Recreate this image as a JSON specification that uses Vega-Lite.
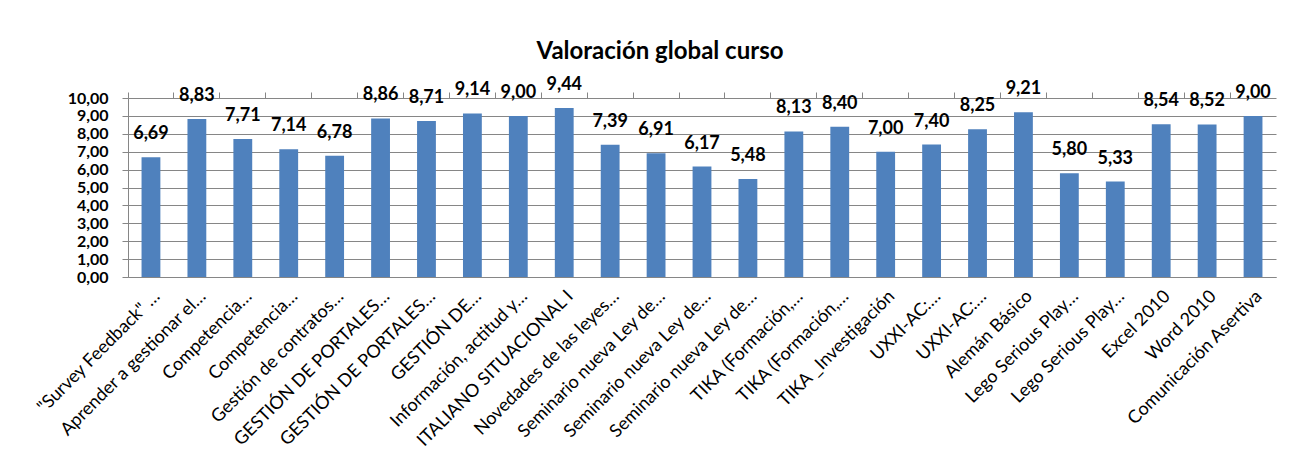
{
  "$schema": "https://vega.github.io/schema/vega-lite/v6.json",
  "autosize": {"type": "none"},
  "width": 1148,
  "height": 179,
  "padding": {"left": 128, "top": 98, "right": 18, "bottom": 193},
  "background": "white",
  "title": {
    "text": "Valoración global curso",
    "font": "Lato",
    "fontSize": 24,
    "fontWeight": "bold",
    "color": "#000000",
    "anchor": "middle",
    "dx": -42,
    "offset": 12
  },
  "data": {
    "values": [
      {"curso": "01|\"Survey Feedback\" …", "valor": 6.69},
      {"curso": "02|Aprender a gestionar el…", "valor": 8.83},
      {"curso": "03|Competencia…", "valor": 7.71},
      {"curso": "04|Competencia…", "valor": 7.14},
      {"curso": "05|Gestión de contratos…", "valor": 6.78},
      {"curso": "06|GESTIÓN DE PORTALES…", "valor": 8.86},
      {"curso": "07|GESTIÓN DE PORTALES…", "valor": 8.71},
      {"curso": "08|GESTIÓN DE…", "valor": 9.14},
      {"curso": "09|Información, actitud y…", "valor": 9.00},
      {"curso": "10|ITALIANO SITUACIONAL I", "valor": 9.44},
      {"curso": "11|Novedades de las  leyes…", "valor": 7.39},
      {"curso": "12|Seminario nueva Ley de…", "valor": 6.91},
      {"curso": "13|Seminario nueva Ley de…", "valor": 6.17},
      {"curso": "14|Seminario nueva Ley de…", "valor": 5.48},
      {"curso": "15|TIKA (Formación,…", "valor": 8.13},
      {"curso": "16|TIKA (Formación,…", "valor": 8.40},
      {"curso": "17|TIKA _Investigación", "valor": 7.00},
      {"curso": "18|UXXI-AC:…", "valor": 7.40},
      {"curso": "19|UXXI-AC:…", "valor": 8.25},
      {"curso": "20|Alemán Básico", "valor": 9.21},
      {"curso": "21|Lego Serious Play…", "valor": 5.80},
      {"curso": "22|Lego Serious Play…", "valor": 5.33},
      {"curso": "23|Excel 2010", "valor": 8.54},
      {"curso": "24|Word 2010", "valor": 8.52},
      {"curso": "25|Comunicación Asertiva", "valor": 9.00}
    ]
  },
  "encoding": {
    "y": {
      "field": "valor",
      "type": "quantitative",
      "scale": {"domain": [0, 10], "nice": false},
      "axis": {
        "title": null,
        "values": [0, 1, 2, 3, 4, 5, 6, 7, 8, 9, 10],
        "format": ".2f",
        "labelFont": "Lato",
        "labelFontSize": 16,
        "labelFontWeight": "bold",
        "labelColor": "#000000",
        "labelPadding": 14,
        "labelOverlap": false,
        "labelBound": false,
        "tickSize": 6,
        "tickColor": "#868686",
        "domainColor": "#868686",
        "grid": true,
        "gridColor": "#868686",
        "gridWidth": 1,
        "gridOpacity": 1
      }
    }
  },
  "layer": [
    {
      "mark": {"type": "bar", "color": "#4F81BD", "width": {"band": 0.41}},
      "encoding": {
        "x": {
          "field": "curso",
          "type": "ordinal",
          "scale": {"paddingInner": 0, "paddingOuter": 0},
          "axis": {
            "title": null,
            "labelExpr": "substring(datum.value, 3)",
            "labelAngle": -45,
            "labelFont": "Lato",
            "labelFontSize": 18,
            "labelColor": "#000000",
            "labelPadding": 10,
            "ticks": false,
            "domainColor": "#868686",
            "bandPosition": 0.5,
            "labelOverlap": false,
            "labelLimit": 0
          }
        }
      }
    },
    {
      "mark": {
        "type": "text",
        "font": "Lato",
        "fontSize": 18,
        "fontWeight": "bold",
        "color": "#000000",
        "baseline": "middle",
        "align": "center",
        "dy": -23
      },
      "encoding": {
        "x": {
          "field": "curso",
          "type": "ordinal",
          "scale": {"paddingInner": 0, "paddingOuter": 0},
          "axis": {
            "labels": false,
            "title": null,
            "ticks": true,
            "tickSize": 6,
            "tickColor": "#868686",
            "domain": false,
            "grid": false,
            "bandPosition": 0
          }
        },
        "text": {"field": "valor", "type": "quantitative", "format": ".2f"}
      }
    }
  ],
  "resolve": {"axis": {"x": "independent"}},
  "config": {
    "view": {"stroke": null},
    "locale": {
      "number": {
        "decimal": ",",
        "thousands": ".",
        "grouping": [3],
        "currency": ["", " €"]
      }
    }
  }
}
